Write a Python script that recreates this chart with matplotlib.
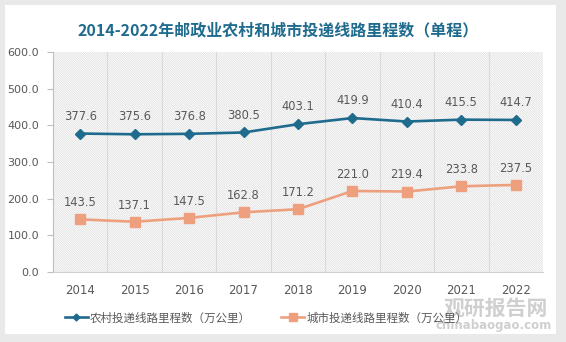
import matplotlib
matplotlib.use("Agg")
import matplotlib.pyplot as plt
from matplotlib.patches import Rectangle
from matplotlib.lines import Line2D

plt.rcParams['font.family'] = ['Noto Sans CJK SC', 'DejaVu Sans']
plt.rcParams['hatch.color'] = '#dcdcdc'
plt.rcParams['hatch.linewidth'] = 0.5

years = ['2014', '2015', '2016', '2017', '2018', '2019', '2020', '2021', '2022']
rural = [377.6, 375.6, 376.8, 380.5, 403.1, 419.9, 410.4, 415.5, 414.7]
urban = [143.5, 137.1, 147.5, 162.8, 171.2, 221.0, 219.4, 233.8, 237.5]
yticks = [0, 100, 200, 300, 400, 500, 600]

title = '2014-2022年邮政业农村和城市投递线路里程数（单程）'
rural_name = '农村投递线路里程数（万公里）'
urban_name = '城市投递线路里程数（万公里）'

blue = '#1f6b8e'
orange = '#eea07e'
gray_txt = '#595959'

fig = plt.figure(figsize=(5.66, 3.42), dpi=100)
fig.patch.set_facecolor('#e9e9e9')
fig.add_artist(Rectangle((5 / 566, 1 - 334 / 342), 551 / 566, 329 / 342,
                         transform=fig.transFigure, facecolor='white',
                         edgecolor='none', zorder=0))

ax = fig.add_axes([53 / 566, 1 - 272 / 342, 490 / 566, 220 / 342])
ax.set_facecolor('white')
ax.patch.set_hatch('\\' * 15)
ax.patch.set_edgecolor('#dcdcdc')
ax.patch.set_linewidth(0)

x = list(range(len(years)))
ax.set_xlim(-0.5, len(years) - 0.5)
ax.set_ylim(0, 600)

# vertical separators between categories
for i in range(1, len(years)):
    ax.axvline(i - 0.5, color='#dadada', lw=0.8, zorder=1)

ax.plot(x, rural, color=blue, lw=1.9, marker='D', ms=5, zorder=3)
ax.plot(x, urban, color=orange, lw=1.9, marker='s', ms=6.5, zorder=3)

for xi, v in zip(x, rural):
    ax.annotate(f'{v:.1f}', (xi, v), xytext=(0, 12.5), textcoords='offset points',
                ha='center', va='center', fontsize=8.3, color=gray_txt,
                family='DejaVu Sans')
for xi, v in zip(x, urban):
    ax.annotate(f'{v:.1f}', (xi, v), xytext=(0, 12), textcoords='offset points',
                ha='center', va='center', fontsize=8.3, color=gray_txt,
                family='DejaVu Sans')

ax.set_yticks(yticks)
ax.set_yticklabels([f'{v:.1f}' for v in yticks], family='DejaVu Sans')
ax.set_xticks(x)
ax.set_xticklabels(years, family='DejaVu Sans')
ax.tick_params(axis='y', labelsize=8, colors=gray_txt, length=4, width=0.8,
               color='#bfbfbf', pad=6)
ax.tick_params(axis='x', labelsize=8.5, colors=gray_txt, length=0, pad=9)

for s in ['top', 'right']:
    ax.spines[s].set_visible(False)
ax.spines['left'].set_color('#bfbfbf')
ax.spines['bottom'].set_color('#d0d0d0')
ax.spines['bottom'].set_linestyle((0, (2, 1)))

fig.text(278 / 566, 1 - 30 / 342, title, ha='center', va='center',
         fontsize=11.5, fontweight='bold', color=blue)

handles = [Line2D([], [], color=blue, lw=1.9, marker='D', ms=3.5),
           Line2D([], [], color=orange, lw=1.9, marker='s', ms=5.5)]
fig.legend(handles, [rural_name, urban_name], loc='center',
           bbox_to_anchor=(266 / 566, 1 - 318 / 342), ncol=2, frameon=False,
           fontsize=8.3, handlelength=2.0, handletextpad=0.2, columnspacing=2.6,
           labelcolor=gray_txt)

# watermark
fig.text(496 / 566, 1 - 308 / 342, '观研报告网', ha='center', va='center',
         fontsize=15, fontweight='bold', color='#a8a8a8', alpha=0.55,
         zorder=0.5)
fig.text(494 / 566, 1 - 326 / 342, 'chinabaogao.com', ha='center', va='center',
         fontsize=8.5, fontweight='bold', color='#a8a8a8', alpha=0.55,
         family='DejaVu Sans', zorder=0.5)

fig.savefig('out.png', dpi=100, facecolor=fig.get_facecolor())
